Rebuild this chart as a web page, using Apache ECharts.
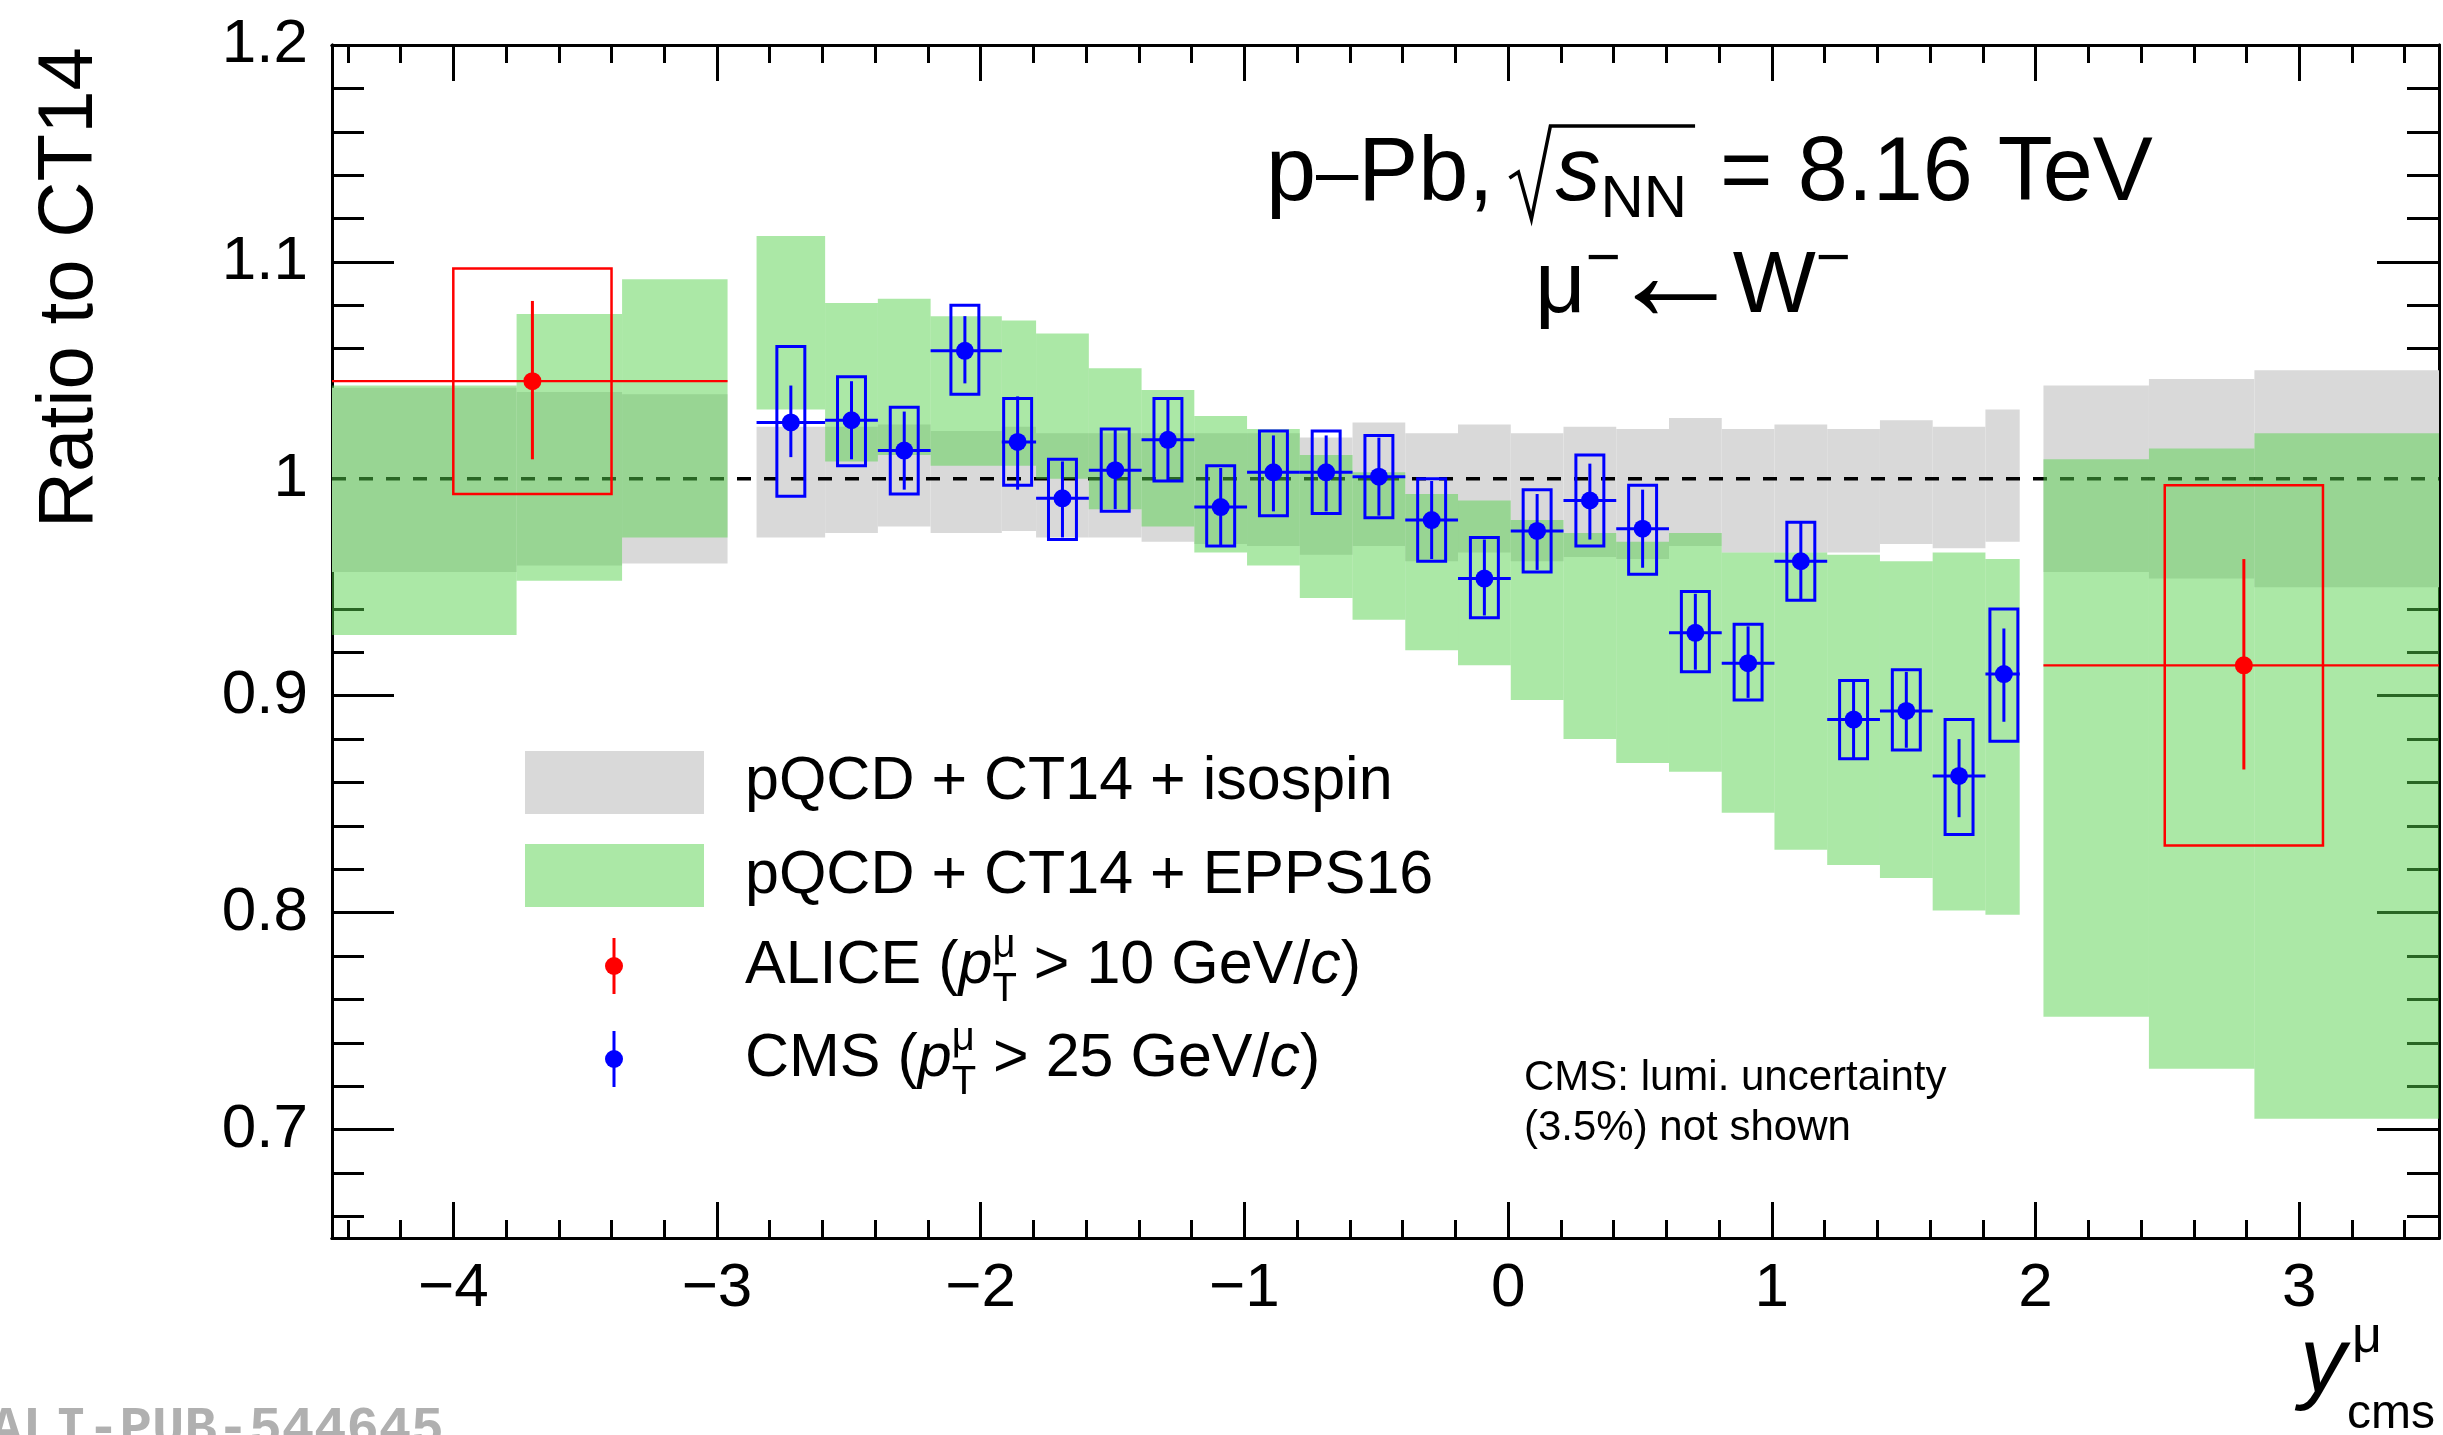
<!DOCTYPE html>
<html>
<head>
<meta charset="utf-8">
<script src="https://cdn.jsdelivr.net/npm/echarts@6/dist/echarts.min.js"></script>
<style>
html,body{margin:0;padding:0;background:#fff;}
#chart{width:2443px;height:1435px;}
</style>
</head>
<body>
<div id="chart"></div>
<script>
// ---------------- axis ranges & ticks ----------------
const X_MIN = -4.46, X_MAX = 3.53;
const Y_MIN = 0.65, Y_MAX = 1.2;
const xMajorTicks = [-4, -3, -2, -1, 0, 1, 2, 3];
const yMajorTicks = [0.7, 0.8, 0.9, 1.0, 1.1, 1.2];

// ---------------- theory bands (bins) ----------------
const bandXLo = [-4.46, -3.76, -3.36,
  -2.85, -2.59, -2.39, -2.19, -1.92, -1.79, -1.59, -1.39, -1.19, -0.99, -0.79, -0.59,
  -0.39, -0.19, 0.01, 0.21, 0.41, 0.61, 0.81, 1.01, 1.21, 1.41, 1.61, 1.81,
  2.03, 2.43, 2.83];
const bandXHi = [-3.76, -3.36, -2.96,
  -2.59, -2.39, -2.19, -1.92, -1.79, -1.59, -1.39, -1.19, -0.99, -0.79, -0.59, -0.39,
  -0.19, 0.01, 0.21, 0.41, 0.61, 0.81, 1.01, 1.21, 1.41, 1.61, 1.81, 1.94,
  2.43, 2.83, 3.53];
// pQCD + CT14 + isospin
const isoLo = [0.957, 0.960, 0.961,
  0.973, 0.975, 0.978, 0.975, 0.976, 0.973, 0.973, 0.971, 0.970, 0.969, 0.965, 0.969,
  0.962, 0.966, 0.962, 0.964, 0.963, 0.969, 0.966, 0.966, 0.966, 0.970, 0.968, 0.971,
  0.957, 0.954, 0.950];
const isoHi = [1.042, 1.040, 1.039,
  1.024, 1.024, 1.025, 1.022, 1.024, 1.021, 1.021, 1.021, 1.021, 1.021, 1.019, 1.026,
  1.021, 1.025, 1.021, 1.024, 1.023, 1.028, 1.023, 1.025, 1.023, 1.027, 1.024, 1.032,
  1.043, 1.046, 1.050];
// pQCD + CT14 + EPPS16
const eppsLo = [0.928, 0.953, 0.973,
  1.032, 1.008, 1.011, 1.006, 1.006, 1.000, 0.986, 0.978, 0.966, 0.960, 0.945, 0.935,
  0.921, 0.914, 0.898, 0.880, 0.869, 0.865, 0.846, 0.829, 0.822, 0.816, 0.801, 0.799,
  0.752, 0.728, 0.705];
const eppsHi = [1.043, 1.076, 1.092,
  1.112, 1.081, 1.083, 1.075, 1.073, 1.067, 1.051, 1.041, 1.029, 1.023, 1.011, 1.003,
  0.993, 0.990, 0.981, 0.975, 0.971, 0.975, 0.966, 0.966, 0.965, 0.962, 0.966, 0.963,
  1.009, 1.014, 1.021];

// ---------------- CMS data ----------------
const cmsX = [-2.72, -2.49, -2.29, -2.06, -1.86, -1.69, -1.49, -1.29, -1.09, -0.89, -0.69, -0.49,
  -0.29, -0.09, 0.11, 0.31, 0.51, 0.71, 0.91, 1.11, 1.31, 1.51, 1.71, 1.88];
const cmsXLo = [-2.85, -2.59, -2.39, -2.19, -1.92, -1.79, -1.59, -1.39, -1.19, -0.99, -0.79, -0.59,
  -0.39, -0.19, 0.01, 0.21, 0.41, 0.61, 0.81, 1.01, 1.21, 1.41, 1.61, 1.81];
const cmsXHi = [-2.59, -2.39, -2.19, -1.92, -1.79, -1.59, -1.39, -1.19, -0.99, -0.79, -0.59, -0.39,
  -0.19, 0.01, 0.21, 0.41, 0.61, 0.81, 1.01, 1.21, 1.41, 1.61, 1.81, 1.94];
const cmsY = [1.026, 1.027, 1.013, 1.059, 1.017, 0.991, 1.004, 1.018, 0.987, 1.003, 1.003, 1.001,
  0.981, 0.954, 0.976, 0.990, 0.977, 0.929, 0.915, 0.962, 0.889, 0.893, 0.863, 0.910];
const cmsStatLo = [1.010, 1.009, 0.995, 1.044, 0.995, 0.973, 0.986, 0.999, 0.969, 0.985, 0.985, 0.983,
  0.963, 0.937, 0.958, 0.972, 0.959, 0.912, 0.899, 0.944, 0.871, 0.876, 0.844, 0.888];
const cmsStatHi = [1.043, 1.045, 1.031, 1.075, 1.038, 1.008, 1.023, 1.037, 1.005, 1.020, 1.020, 1.019,
  0.999, 0.972, 0.993, 1.007, 0.995, 0.947, 0.932, 0.980, 0.907, 0.911, 0.880, 0.931];
const cmsSysLo = [0.992, 1.006, 0.993, 1.039, 0.997, 0.972, 0.985, 0.999, 0.969, 0.983, 0.984, 0.982,
  0.962, 0.936, 0.957, 0.969, 0.956, 0.911, 0.898, 0.944, 0.871, 0.875, 0.836, 0.879];
const cmsSysHi = [1.061, 1.047, 1.033, 1.080, 1.037, 1.009, 1.023, 1.037, 1.006, 1.022, 1.022, 1.020,
  1.000, 0.973, 0.995, 1.011, 0.997, 0.948, 0.933, 0.980, 0.907, 0.912, 0.889, 0.940];

// ---------------- ALICE data ----------------
const aliceX = [-3.70, 2.79];
const aliceXLo = [-4.46, 2.03];
const aliceXHi = [-2.96, 3.53];
const aliceY = [1.045, 0.914];
const aliceStatLo = [1.009, 0.866];
const aliceStatHi = [1.082, 0.963];
const aliceSysXLo = [-4.00, 2.49];
const aliceSysXHi = [-3.40, 3.09];
const aliceSysLo = [0.993, 0.831];
const aliceSysHi = [1.097, 0.997];

// ---------------- texts ----------------
const yTitle = 'Ratio to CT14';
const legendTexts = ['pQCD + CT14 + isospin', 'pQCD + CT14 + EPPS16'];
const noteLines = ['CMS: lumi. uncertainty', '(3.5%) not shown'];
const watermark = 'ALI-PUB-544645';

// =====================================================
const FONT = '"Liberation Sans", Arial, Helvetica, "DejaVu Sans", sans-serif';
const BLUE = '#0000ff', RED = '#ff0000';
const GRAY = '#d9d9d9', GREEN = 'rgba(84,208,73,0.49)';
const CMS_BOX_HALF = 0.053;

const xMinorTicks = [];
for (let k = -22; k <= 17; k++) { if (k % 5 !== 0) xMinorTicks.push(Math.round(k * 2) / 10); }
const yMinorTicks = [];
for (let k = 33; k <= 59; k++) { if (k % 5 !== 0) yMinorTicks.push(Math.round(k * 2) / 100); }

const bandIso = bandXLo.map((v, i) => [v, bandXHi[i], isoLo[i], isoHi[i]]);
const bandEpps = bandXLo.map((v, i) => [v, bandXHi[i], eppsLo[i], eppsHi[i]]);
const cmsData = cmsX.map((x, i) => [x, cmsY[i], cmsXLo[i], cmsXHi[i], cmsStatLo[i], cmsStatHi[i],
  x - CMS_BOX_HALF, x + CMS_BOX_HALF, cmsSysLo[i], cmsSysHi[i]]);
const aliceData = aliceX.map((x, i) => [x, aliceY[i], aliceXLo[i], aliceXHi[i], aliceStatLo[i], aliceStatHi[i],
  aliceSysXLo[i], aliceSysXHi[i], aliceSysLo[i], aliceSysHi[i]]);

function bandRender(color) {
  return function (params, api) {
    const a = api.coord([api.value(0), api.value(3)]);
    const b = api.coord([api.value(1), api.value(2)]);
    return { type: 'rect', shape: { x: a[0], y: a[1], width: b[0] - a[0], height: b[1] - a[1] },
      style: { fill: color } };
  };
}
function pointRender(color, boxW, hW, vW, r) {
  return function (params, api) {
    const x = api.value(0), y = api.value(1);
    const c = api.coord([x, y]);
    const xl = api.coord([api.value(2), y])[0], xh = api.coord([api.value(3), y])[0];
    const sl = api.coord([x, api.value(4)])[1], sh = api.coord([x, api.value(5)])[1];
    const b0 = api.coord([api.value(6), api.value(9)]), b1 = api.coord([api.value(7), api.value(8)]);
    return { type: 'group', children: [
      { type: 'rect', shape: { x: b0[0], y: b0[1], width: b1[0] - b0[0], height: b1[1] - b0[1] },
        style: { fill: 'none', stroke: color, lineWidth: boxW } },
      { type: 'line', shape: { x1: xl, y1: c[1], x2: xh, y2: c[1] }, style: { stroke: color, lineWidth: hW } },
      { type: 'line', shape: { x1: c[0], y1: sh, x2: c[0], y2: sl }, style: { stroke: color, lineWidth: vW } },
      { type: 'circle', shape: { cx: c[0], cy: c[1], r: r }, style: { fill: color } }
    ] };
  };
}

function mkX(pos, ticks, len, labels) {
  return { type: 'value', min: X_MIN, max: X_MAX, position: pos, offset: 0, gridIndex: 0,
    axisLine: { show: true, onZero: false, lineStyle: { color: '#000', width: 3 } },
    axisTick: { show: true, inside: true, length: len, customValues: ticks, lineStyle: { color: '#000', width: 3 } },
    axisLabel: labels ? { show: true, customValues: xMajorTicks, margin: 20, color: '#000', fontSize: 62, fontFamily: FONT,
      formatter: v => (v < 0 ? '\u2212' + Math.abs(v) : String(v)) } : { show: false },
    splitLine: { show: false }, minorTick: { show: false } };
}
function mkY(pos, ticks, len, labels) {
  return { type: 'value', min: Y_MIN, max: Y_MAX, position: pos, offset: 0, gridIndex: 0,
    axisLine: { show: true, onZero: false, lineStyle: { color: '#000', width: 3 } },
    axisTick: { show: true, inside: true, length: len, customValues: ticks, lineStyle: { color: '#000', width: 3 } },
    axisLabel: labels ? { show: true, customValues: yMajorTicks, margin: 24, color: '#000', fontSize: 62, fontFamily: FONT,
      formatter: v => String(+(+v).toFixed(2)) } : { show: false },
    splitLine: { show: false }, minorTick: { show: false } };
}

// ---------- text layout helpers ----------
const mctx = document.createElement('canvas').getContext('2d');
function fstr(size, italic, bold, fam) { return (italic ? 'italic ' : '') + (bold ? 'bold ' : '') + size + 'px ' + (fam || FONT); }
function measure(t, f) { mctx.font = f; return mctx.measureText(t).width; }
function textEl(t, x, y, f, color, align, va) {
  return { type: 'text', x: x, y: y, silent: true, z: 50,
    style: { text: t, font: f, fill: color || '#000', textAlign: align || 'left', align: align || 'left',
      textVerticalAlign: va || 'middle', verticalAlign: va || 'middle' } };
}
function layout(x, y, pieces, out) {
  let cx = x;
  for (const p of pieces) {
    if (p.gap !== undefined) { p.x0 = cx; cx += p.gap; p.x1 = cx; continue; }
    if (p.stack) {
      let w = 0;
      for (const s of p.stack) { const f = fstr(s.size, s.italic, false, s.fam); out.push(textEl(s.t, cx, y + (s.dy || 0), f)); w = Math.max(w, measure(s.t, f)); }
      p.x0 = cx; cx += w; p.x1 = cx; continue;
    }
    const f = fstr(p.size, p.italic, false, p.fam);
    out.push(textEl(p.t, cx, y + (p.dy || 0), f));
    p.x0 = cx; cx += measure(p.t, f); p.x1 = cx;
  }
  return cx;
}

const graphics = [];
// y-axis title
graphics.push({ type: 'text', x: 70, y: 47, rotation: Math.PI / 2, silent: true,
  style: { text: yTitle, font: fstr(78), fill: '#000', textAlign: 'right', align: 'right', textVerticalAlign: 'middle', verticalAlign: 'middle' } });
// x-axis title
graphics.push(textEl('y', 2300, 1366, fstr(92, true)));
graphics.push(textEl('\u03bc', 2352, 1338, fstr(52)));
graphics.push(textEl('cms', 2347, 1415, fstr(48)));

// title line 1
const T1 = 175;
const t1 = [
  { t: 'p', size: 90 },
  { t: '\u2013', size: 76, dy: 1 },
  { t: 'Pb,', size: 90 },
  { gap: 16 },
  { gap: 46 },
  { t: 's', size: 90, italic: true },
  { t: 'NN', size: 60, dy: 25 },
  { gap: 8 },
  { t: ' = 8.16 TeV', size: 90 }
];
layout(1266, T1, t1, graphics);
const rx = t1[4].x0;
graphics.push({ type: 'polyline', silent: true, z: 50,
  shape: { points: [[rx, T1 + 3], [rx + 9, T1 - 3], [rx + 22, T1 + 44], [rx + 41, T1 - 49], [t1[7].x1, T1 - 49]] },
  style: { stroke: '#000', lineWidth: 3.5, fill: null } });
// title line 2
const t2 = [
  { t: '\u03bc', size: 88 },
  { t: '\u2212', size: 60, dy: -28 },
  { gap: -14 },
  { t: '\u2190', size: 138, dy: -6 },
  { gap: -12 },
  { t: 'W', size: 88 },
  { t: '\u2212', size: 60, dy: -28 }
];
layout(1535, 288, t2, graphics);

// legend
graphics.push({ type: 'rect', silent: true, shape: { x: 525, y: 751, width: 179, height: 63 }, style: { fill: GRAY } });
graphics.push({ type: 'rect', silent: true, shape: { x: 525, y: 844, width: 179, height: 63 }, style: { fill: GREEN } });
layout(745, 782, [{ t: legendTexts[0], size: 61 }], graphics);
layout(745, 876, [{ t: legendTexts[1], size: 61 }], graphics);
[[RED, 966], [BLUE, 1059]].forEach(([col, yy]) => {
  graphics.push({ type: 'line', silent: true, shape: { x1: 614, y1: yy - 28, x2: 614, y2: yy + 28 }, style: { stroke: col, lineWidth: 3 } });
  graphics.push({ type: 'circle', silent: true, shape: { cx: 614, cy: yy, r: 9 }, style: { fill: col } });
});
function expLegend(name, cut, yy) {
  layout(745, yy, [
    { t: name + ' (', size: 61 },
    { t: 'p', size: 61, italic: true },
    { stack: [{ t: '\u03bc', size: 40, dy: -20 }, { t: 'T', size: 40, dy: 24 }] },
    { t: ' > ' + cut + ' GeV/', size: 61 },
    { t: 'c', size: 61, italic: true },
    { t: ')', size: 61 }
  ], graphics);
}
expLegend('ALICE', '10', 966);
expLegend('CMS', '25', 1059);

// note
layout(1524, 1078, [{ t: noteLines[0], size: 42 }], graphics);
layout(1524, 1128, [{ t: noteLines[1], size: 42 }], graphics);

// watermark
graphics.push(textEl(watermark, -10, 1403, fstr(54, false, true, '"Liberation Mono", "DejaVu Sans Mono", monospace'), '#b0b0b0', 'left', 'top'));

const chart = echarts.init(document.getElementById('chart'), null, { renderer: 'canvas' });
chart.setOption({
  animation: false,
  backgroundColor: '#fff',
  grid: { left: 332, top: 45, width: 2107, height: 1193, containLabel: false },
  xAxis: [
    mkX('bottom', xMajorTicks, 36, true),
    mkX('bottom', xMinorTicks, 18, false),
    mkX('top', xMajorTicks, 36, false),
    mkX('top', xMinorTicks, 18, false)
  ],
  yAxis: [
    mkY('left', yMajorTicks, 62, true),
    mkY('left', yMinorTicks, 32, false),
    mkY('right', yMajorTicks, 62, false),
    mkY('right', yMinorTicks, 32, false)
  ],
  graphic: { elements: graphics },
  series: [
    { type: 'custom', name: 'isospin', z: 1, silent: true, renderItem: bandRender(GRAY), data: bandIso,
      encode: { x: [0, 1], y: [2, 3] } },
    { type: 'line', name: 'unity', z: 2, silent: true, symbol: 'none', data: [[X_MIN, 1], [X_MAX, 1]],
      lineStyle: { color: '#000', width: 3.5, type: [14, 13] } },
    { type: 'custom', name: 'EPPS16', z: 3, silent: true, renderItem: bandRender(GREEN), data: bandEpps,
      encode: { x: [0, 1], y: [2, 3] } },
    { type: 'custom', name: 'CMS', z: 4, silent: true, renderItem: pointRender(BLUE, 3, 3, 3, 9), data: cmsData,
      encode: { x: 0, y: 1 } },
    { type: 'custom', name: 'ALICE', z: 4, silent: true, renderItem: pointRender(RED, 2.5, 2.2, 3, 9), data: aliceData,
      encode: { x: 0, y: 1 } }
  ]
});
</script>
</body>
</html>
